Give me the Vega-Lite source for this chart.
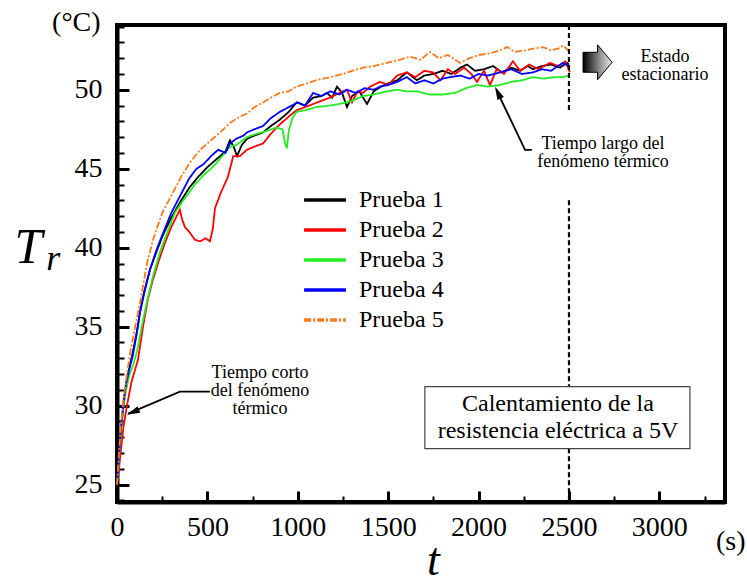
{
  "$schema": "https://vega.github.io/schema/vega-lite/v6.json",
  "width": 608,
  "height": 477,
  "autosize": "none",
  "padding": {"left": 117, "top": 25, "right": 22, "bottom": 74},
  "background": "white",
  "config": {
    "font": "Liberation Serif",
    "view": {"stroke": "black", "strokeWidth": 4},
    "text": {"font": "Liberation Serif"},
    "legend": {"labelFont": "Liberation Serif", "titleFont": "Liberation Serif"},
    "axis": {"domainColor": "black", "domainWidth": 4, "tickColor": "black", "labelColor": "black", "titleColor": "black", "grid": false, "labelFont": "Liberation Serif", "titleFont": "Liberation Serif"}
  },
  "encoding": {
    "x": {
      "field": "t", "type": "quantitative",
      "scale": {"domain": [0, 3363], "nice": false, "zero": false},
      "axis": {
        "values": [0, 250, 500, 750, 1000, 1250, 1500, 1750, 2000, 2250, 2500, 2750, 3000, 3250],
        "format": "d",
        "labelExpr": "datum.value % 500 === 0 ? datum.label : ''",
        "tickSize": {"condition": {"test": "datum.value % 500 === 0", "value": -11}, "value": -6},
        "tickWidth": {"condition": {"test": "datum.value % 500 === 0", "value": 3}, "value": 2},
        "labelPadding": 22, "labelFontSize": 28, "labelFlush": false, "labelOverlap": false,
        "title": "t", "titleFontStyle": "italic", "titleFontSize": 46, "titleFontWeight": "normal",
        "titleX": 316, "titleY": 72, "titleAlign": "center", "titleBaseline": "alphabetic"
      }
    },
    "y": {
      "field": "T", "type": "quantitative",
      "scale": {"domain": [23.9, 54.1], "nice": false, "zero": false},
      "axis": {
        "values": [24, 25, 26, 27, 28, 29, 30, 31, 32, 33, 34, 35, 36, 37, 38, 39, 40, 41, 42, 43, 44, 45, 46, 47, 48, 49, 50, 51, 52, 53, 54],
        "labelExpr": "datum.value % 5 === 0 ? datum.label : ''",
        "tickSize": {"condition": {"test": "datum.value % 5 === 0", "value": -12}, "value": -7},
        "tickWidth": {"condition": {"test": "datum.value % 5 === 0", "value": 3}, "value": 2},
        "labelPadding": 27, "labelFontSize": 28, "labelOverlap": false, "labelFlush": false,
        "title": "T", "titleFontStyle": "italic", "titleFontSize": 50, "titleFontWeight": "normal",
        "titleAngle": 0, "titleX": -103, "titleY": 237, "titleAlign": "left", "titleBaseline": "alphabetic"
      }
    }
  },
  "layer": [
    {
      "data": {"values": [
        {"s":"Prueba 1","t":0,"T":25},{"s":"Prueba 1","t":10,"T":26.5},{"s":"Prueba 1","t":20,"T":28.2},{"s":"Prueba 1","t":35,"T":30.0},{"s":"Prueba 1","t":50,"T":31.3},{"s":"Prueba 1","t":70,"T":32.5},{"s":"Prueba 1","t":88,"T":33.4},{"s":"Prueba 1","t":110,"T":34.7},{"s":"Prueba 1","t":127,"T":35.9},{"s":"Prueba 1","t":150,"T":37.2},{"s":"Prueba 1","t":182,"T":38.6},{"s":"Prueba 1","t":220,"T":39.8},{"s":"Prueba 1","t":254,"T":40.8},{"s":"Prueba 1","t":300,"T":41.9},{"s":"Prueba 1","t":350,"T":42.9},{"s":"Prueba 1","t":400,"T":43.8},{"s":"Prueba 1","t":450,"T":44.5},{"s":"Prueba 1","t":500,"T":45.1},{"s":"Prueba 1","t":550,"T":45.6},{"s":"Prueba 1","t":600,"T":46.1},{"s":"Prueba 1","t":625,"T":46.8},{"s":"Prueba 1","t":645,"T":46.4},{"s":"Prueba 1","t":664,"T":45.8},{"s":"Prueba 1","t":690,"T":46.5},{"s":"Prueba 1","t":720,"T":46.9},{"s":"Prueba 1","t":760,"T":47.1},{"s":"Prueba 1","t":808,"T":47.3},{"s":"Prueba 1","t":850,"T":47.7},{"s":"Prueba 1","t":900,"T":48.1},{"s":"Prueba 1","t":950,"T":48.6},{"s":"Prueba 1","t":993,"T":49.2},{"s":"Prueba 1","t":1040,"T":49.0},{"s":"Prueba 1","t":1085,"T":49.5},{"s":"Prueba 1","t":1130,"T":49.6},{"s":"Prueba 1","t":1161,"T":49.8},{"s":"Prueba 1","t":1190,"T":49.5},{"s":"Prueba 1","t":1217,"T":50.2},{"s":"Prueba 1","t":1245,"T":49.8},{"s":"Prueba 1","t":1272,"T":48.9},{"s":"Prueba 1","t":1300,"T":49.6},{"s":"Prueba 1","t":1340,"T":49.9},{"s":"Prueba 1","t":1383,"T":49.1},{"s":"Prueba 1","t":1420,"T":49.9},{"s":"Prueba 1","t":1460,"T":50.2},{"s":"Prueba 1","t":1500,"T":50.4},{"s":"Prueba 1","t":1550,"T":50.6},{"s":"Prueba 1","t":1603,"T":51.1},{"s":"Prueba 1","t":1659,"T":50.6},{"s":"Prueba 1","t":1700,"T":50.9},{"s":"Prueba 1","t":1750,"T":51.0},{"s":"Prueba 1","t":1800,"T":51.2},{"s":"Prueba 1","t":1850,"T":51.0},{"s":"Prueba 1","t":1900,"T":51.4},{"s":"Prueba 1","t":1936,"T":51.6},{"s":"Prueba 1","t":1980,"T":51.2},{"s":"Prueba 1","t":2030,"T":51.3},{"s":"Prueba 1","t":2080,"T":51.5},{"s":"Prueba 1","t":2130,"T":51.1},{"s":"Prueba 1","t":2180,"T":51.4},{"s":"Prueba 1","t":2230,"T":51.2},{"s":"Prueba 1","t":2270,"T":51.5},{"s":"Prueba 1","t":2301,"T":51.3},{"s":"Prueba 1","t":2350,"T":51.5},{"s":"Prueba 1","t":2400,"T":51.6},{"s":"Prueba 1","t":2450,"T":51.4},{"s":"Prueba 1","t":2489,"T":51.7},{"s":"Prueba 1","t":2500,"T":51.6},

        {"s":"Prueba 2","t":0,"T":25},{"s":"Prueba 2","t":10,"T":25.9},{"s":"Prueba 2","t":20,"T":27.0},{"s":"Prueba 2","t":35,"T":28.6},{"s":"Prueba 2","t":55,"T":30.0},{"s":"Prueba 2","t":80,"T":31.5},{"s":"Prueba 2","t":116,"T":32.9},{"s":"Prueba 2","t":144,"T":35.0},{"s":"Prueba 2","t":170,"T":36.7},{"s":"Prueba 2","t":199,"T":38.0},{"s":"Prueba 2","t":235,"T":39.3},{"s":"Prueba 2","t":265,"T":40.3},{"s":"Prueba 2","t":300,"T":41.3},{"s":"Prueba 2","t":330,"T":42.0},{"s":"Prueba 2","t":348,"T":42.4},{"s":"Prueba 2","t":360,"T":41.8},{"s":"Prueba 2","t":376,"T":41.3},{"s":"Prueba 2","t":400,"T":41.0},{"s":"Prueba 2","t":431,"T":40.5},{"s":"Prueba 2","t":460,"T":40.4},{"s":"Prueba 2","t":490,"T":40.6},{"s":"Prueba 2","t":514,"T":40.4},{"s":"Prueba 2","t":530,"T":41.2},{"s":"Prueba 2","t":542,"T":42.5},{"s":"Prueba 2","t":575,"T":43.5},{"s":"Prueba 2","t":614,"T":44.5},{"s":"Prueba 2","t":643,"T":45.8},{"s":"Prueba 2","t":680,"T":45.8},{"s":"Prueba 2","t":719,"T":46.2},{"s":"Prueba 2","t":760,"T":46.4},{"s":"Prueba 2","t":808,"T":46.6},{"s":"Prueba 2","t":850,"T":47.2},{"s":"Prueba 2","t":900,"T":47.8},{"s":"Prueba 2","t":950,"T":48.3},{"s":"Prueba 2","t":993,"T":48.7},{"s":"Prueba 2","t":1040,"T":48.9},{"s":"Prueba 2","t":1085,"T":49.1},{"s":"Prueba 2","t":1130,"T":49.3},{"s":"Prueba 2","t":1178,"T":49.5},{"s":"Prueba 2","t":1230,"T":49.8},{"s":"Prueba 2","t":1272,"T":50.0},{"s":"Prueba 2","t":1300,"T":49.2},{"s":"Prueba 2","t":1330,"T":49.9},{"s":"Prueba 2","t":1361,"T":49.8},{"s":"Prueba 2","t":1400,"T":50.2},{"s":"Prueba 2","t":1455,"T":50.5},{"s":"Prueba 2","t":1500,"T":50.3},{"s":"Prueba 2","t":1550,"T":50.9},{"s":"Prueba 2","t":1603,"T":51.1},{"s":"Prueba 2","t":1650,"T":50.8},{"s":"Prueba 2","t":1700,"T":51.2},{"s":"Prueba 2","t":1748,"T":51.1},{"s":"Prueba 2","t":1790,"T":50.6},{"s":"Prueba 2","t":1830,"T":51.3},{"s":"Prueba 2","t":1870,"T":51.0},{"s":"Prueba 2","t":1920,"T":51.4},{"s":"Prueba 2","t":1960,"T":51.0},{"s":"Prueba 2","t":1991,"T":50.5},{"s":"Prueba 2","t":2030,"T":51.2},{"s":"Prueba 2","t":2063,"T":50.3},{"s":"Prueba 2","t":2100,"T":51.3},{"s":"Prueba 2","t":2140,"T":51.0},{"s":"Prueba 2","t":2190,"T":51.8},{"s":"Prueba 2","t":2230,"T":51.2},{"s":"Prueba 2","t":2280,"T":51.6},{"s":"Prueba 2","t":2330,"T":51.3},{"s":"Prueba 2","t":2395,"T":51.7},{"s":"Prueba 2","t":2440,"T":51.5},{"s":"Prueba 2","t":2480,"T":51.8},{"s":"Prueba 2","t":2505,"T":51.1},

        {"s":"Prueba 3","t":0,"T":25},{"s":"Prueba 3","t":10,"T":26.4},{"s":"Prueba 3","t":20,"T":28.0},{"s":"Prueba 3","t":35,"T":29.8},{"s":"Prueba 3","t":50,"T":31.0},{"s":"Prueba 3","t":70,"T":32.0},{"s":"Prueba 3","t":90,"T":32.6},{"s":"Prueba 3","t":110,"T":33.4},{"s":"Prueba 3","t":144,"T":35.4},{"s":"Prueba 3","t":170,"T":36.8},{"s":"Prueba 3","t":199,"T":38.2},{"s":"Prueba 3","t":240,"T":39.8},{"s":"Prueba 3","t":276,"T":40.9},{"s":"Prueba 3","t":320,"T":42.2},{"s":"Prueba 3","t":366,"T":43.0},{"s":"Prueba 3","t":387,"T":43.3},{"s":"Prueba 3","t":430,"T":44.0},{"s":"Prueba 3","t":480,"T":44.6},{"s":"Prueba 3","t":520,"T":45.0},{"s":"Prueba 3","t":553,"T":45.4},{"s":"Prueba 3","t":590,"T":45.9},{"s":"Prueba 3","t":625,"T":46.4},{"s":"Prueba 3","t":660,"T":46.5},{"s":"Prueba 3","t":719,"T":47.0},{"s":"Prueba 3","t":770,"T":47.2},{"s":"Prueba 3","t":830,"T":47.4},{"s":"Prueba 3","t":880,"T":47.6},{"s":"Prueba 3","t":915,"T":47.5},{"s":"Prueba 3","t":930,"T":46.6},{"s":"Prueba 3","t":940,"T":46.3},{"s":"Prueba 3","t":950,"T":47.4},{"s":"Prueba 3","t":970,"T":48.2},{"s":"Prueba 3","t":993,"T":48.6},{"s":"Prueba 3","t":1040,"T":48.7},{"s":"Prueba 3","t":1100,"T":48.9},{"s":"Prueba 3","t":1178,"T":49.0},{"s":"Prueba 3","t":1230,"T":49.1},{"s":"Prueba 3","t":1300,"T":49.3},{"s":"Prueba 3","t":1361,"T":49.6},{"s":"Prueba 3","t":1420,"T":49.7},{"s":"Prueba 3","t":1490,"T":49.9},{"s":"Prueba 3","t":1549,"T":50.0},{"s":"Prueba 3","t":1600,"T":49.9},{"s":"Prueba 3","t":1659,"T":49.9},{"s":"Prueba 3","t":1730,"T":49.7},{"s":"Prueba 3","t":1803,"T":49.7},{"s":"Prueba 3","t":1870,"T":49.8},{"s":"Prueba 3","t":1930,"T":50.1},{"s":"Prueba 3","t":1991,"T":50.3},{"s":"Prueba 3","t":2050,"T":50.2},{"s":"Prueba 3","t":2118,"T":50.3},{"s":"Prueba 3","t":2180,"T":50.5},{"s":"Prueba 3","t":2240,"T":50.6},{"s":"Prueba 3","t":2301,"T":50.8},{"s":"Prueba 3","t":2360,"T":50.7},{"s":"Prueba 3","t":2420,"T":50.8},{"s":"Prueba 3","t":2467,"T":50.8},{"s":"Prueba 3","t":2500,"T":50.9},

        {"s":"Prueba 4","t":0,"T":25},{"s":"Prueba 4","t":10,"T":26.6},{"s":"Prueba 4","t":20,"T":28.3},{"s":"Prueba 4","t":35,"T":30.1},{"s":"Prueba 4","t":50,"T":31.4},{"s":"Prueba 4","t":70,"T":32.4},{"s":"Prueba 4","t":88,"T":33.2},{"s":"Prueba 4","t":110,"T":34.6},{"s":"Prueba 4","t":127,"T":35.9},{"s":"Prueba 4","t":150,"T":37.1},{"s":"Prueba 4","t":182,"T":38.6},{"s":"Prueba 4","t":220,"T":39.9},{"s":"Prueba 4","t":254,"T":40.9},{"s":"Prueba 4","t":300,"T":42.2},{"s":"Prueba 4","t":350,"T":43.3},{"s":"Prueba 4","t":400,"T":44.4},{"s":"Prueba 4","t":440,"T":45.0},{"s":"Prueba 4","t":480,"T":45.3},{"s":"Prueba 4","t":520,"T":45.8},{"s":"Prueba 4","t":560,"T":46.2},{"s":"Prueba 4","t":600,"T":46.0},{"s":"Prueba 4","t":625,"T":46.6},{"s":"Prueba 4","t":660,"T":46.9},{"s":"Prueba 4","t":700,"T":47.1},{"s":"Prueba 4","t":719,"T":47.3},{"s":"Prueba 4","t":760,"T":47.5},{"s":"Prueba 4","t":808,"T":47.7},{"s":"Prueba 4","t":850,"T":48.2},{"s":"Prueba 4","t":901,"T":48.6},{"s":"Prueba 4","t":950,"T":48.9},{"s":"Prueba 4","t":1000,"T":49.2},{"s":"Prueba 4","t":1040,"T":49.0},{"s":"Prueba 4","t":1085,"T":49.8},{"s":"Prueba 4","t":1130,"T":49.6},{"s":"Prueba 4","t":1180,"T":49.9},{"s":"Prueba 4","t":1230,"T":49.7},{"s":"Prueba 4","t":1272,"T":50.0},{"s":"Prueba 4","t":1320,"T":49.8},{"s":"Prueba 4","t":1370,"T":50.1},{"s":"Prueba 4","t":1420,"T":50.0},{"s":"Prueba 4","t":1455,"T":50.2},{"s":"Prueba 4","t":1500,"T":50.3},{"s":"Prueba 4","t":1550,"T":50.5},{"s":"Prueba 4","t":1603,"T":50.8},{"s":"Prueba 4","t":1650,"T":50.4},{"s":"Prueba 4","t":1700,"T":50.6},{"s":"Prueba 4","t":1750,"T":50.4},{"s":"Prueba 4","t":1800,"T":50.7},{"s":"Prueba 4","t":1842,"T":50.8},{"s":"Prueba 4","t":1900,"T":50.9},{"s":"Prueba 4","t":1950,"T":50.7},{"s":"Prueba 4","t":2000,"T":51.0},{"s":"Prueba 4","t":2050,"T":50.9},{"s":"Prueba 4","t":2118,"T":51.1},{"s":"Prueba 4","t":2180,"T":51.3},{"s":"Prueba 4","t":2240,"T":51.0},{"s":"Prueba 4","t":2301,"T":51.1},{"s":"Prueba 4","t":2350,"T":51.3},{"s":"Prueba 4","t":2400,"T":51.2},{"s":"Prueba 4","t":2440,"T":51.5},{"s":"Prueba 4","t":2467,"T":51.7},{"s":"Prueba 4","t":2500,"T":51.5},

        {"s":"Prueba 5","t":0,"T":25},{"s":"Prueba 5","t":10,"T":26.8},{"s":"Prueba 5","t":20,"T":28.5},{"s":"Prueba 5","t":35,"T":30.3},{"s":"Prueba 5","t":50,"T":31.6},{"s":"Prueba 5","t":72,"T":33.3},{"s":"Prueba 5","t":100,"T":35.0},{"s":"Prueba 5","t":127,"T":36.5},{"s":"Prueba 5","t":166,"T":39.0},{"s":"Prueba 5","t":199,"T":40.5},{"s":"Prueba 5","t":250,"T":42.2},{"s":"Prueba 5","t":310,"T":43.5},{"s":"Prueba 5","t":360,"T":44.6},{"s":"Prueba 5","t":410,"T":45.5},{"s":"Prueba 5","t":460,"T":46.2},{"s":"Prueba 5","t":520,"T":46.8},{"s":"Prueba 5","t":570,"T":47.3},{"s":"Prueba 5","t":625,"T":47.9},{"s":"Prueba 5","t":680,"T":48.3},{"s":"Prueba 5","t":720,"T":48.5},{"s":"Prueba 5","t":760,"T":48.9},{"s":"Prueba 5","t":808,"T":49.2},{"s":"Prueba 5","t":850,"T":49.5},{"s":"Prueba 5","t":900,"T":49.8},{"s":"Prueba 5","t":950,"T":49.9},{"s":"Prueba 5","t":993,"T":50.2},{"s":"Prueba 5","t":1050,"T":50.4},{"s":"Prueba 5","t":1100,"T":50.6},{"s":"Prueba 5","t":1178,"T":50.8},{"s":"Prueba 5","t":1250,"T":51.0},{"s":"Prueba 5","t":1300,"T":51.2},{"s":"Prueba 5","t":1361,"T":51.4},{"s":"Prueba 5","t":1420,"T":51.5},{"s":"Prueba 5","t":1492,"T":51.7},{"s":"Prueba 5","t":1565,"T":51.9},{"s":"Prueba 5","t":1620,"T":52.1},{"s":"Prueba 5","t":1680,"T":51.9},{"s":"Prueba 5","t":1731,"T":52.4},{"s":"Prueba 5","t":1780,"T":52.0},{"s":"Prueba 5","t":1830,"T":52.2},{"s":"Prueba 5","t":1897,"T":51.7},{"s":"Prueba 5","t":1950,"T":52.0},{"s":"Prueba 5","t":2000,"T":52.2},{"s":"Prueba 5","t":2060,"T":52.3},{"s":"Prueba 5","t":2118,"T":52.5},{"s":"Prueba 5","t":2160,"T":52.7},{"s":"Prueba 5","t":2200,"T":52.4},{"s":"Prueba 5","t":2260,"T":52.5},{"s":"Prueba 5","t":2300,"T":52.6},{"s":"Prueba 5","t":2356,"T":52.7},{"s":"Prueba 5","t":2400,"T":52.5},{"s":"Prueba 5","t":2440,"T":52.6},{"s":"Prueba 5","t":2467,"T":52.8},{"s":"Prueba 5","t":2505,"T":52.4}
      ]},
      "mark": {"type": "line", "strokeWidth": 1.8},
      "encoding": {
        "color": {
          "field": "s", "type": "nominal",
          "scale": {"domain": ["Prueba 1", "Prueba 2", "Prueba 3", "Prueba 4", "Prueba 5"], "range": ["#000000", "#ff0000", "#22ee22", "#0000ff", "#ff7a1a"]},
          "legend": {"orient": "none", "legendX": 196, "legendY": 163, "title": null, "symbolType": "M-2.5,0H2.5", "symbolSize": 280, "symbolStrokeWidth": 3.5, "labelFontSize": 24, "labelOffset": 22, "rowPadding": 6, "labelColor": "black", "padding": 0}
        },
        "strokeDash": {
          "field": "s", "type": "nominal",
          "scale": {"domain": ["Prueba 1", "Prueba 2", "Prueba 3", "Prueba 4", "Prueba 5"], "range": [[1, 0], [1, 0], [1, 0], [1, 0], [7, 2, 2, 2]]},
          "legend": {"orient": "none", "legendX": 196, "legendY": 163, "title": null, "symbolType": "M-2.5,0H2.5", "symbolSize": 280, "symbolStrokeWidth": 3.5, "labelFontSize": 24, "labelOffset": 22, "rowPadding": 6, "labelColor": "black", "padding": 0}
        }
      }
    },
    {
      "data": {"values": [{"t": 2500, "T": 54.1, "T2": 48.7}, {"t": 2500, "T": 43.0, "T2": 23.9}]},
      "mark": {"type": "rule", "color": "black", "strokeWidth": 2.2, "strokeDash": [5, 3]},
      "encoding": {"y2": {"field": "T2"}}
    },
    {
      "data": {"values": [{"t": 1703, "t2": 3169, "T": 31.2, "T2": 27.28}]},
      "mark": {"type": "rect", "fill": "white", "stroke": "#444444", "strokeWidth": 1.2},
      "encoding": {"x2": {"field": "t2"}, "y2": {"field": "T2"}}
    },
    {
      "data": {"values": [{"t": 2439, "T": 29.68, "label": "Calentamiento de la\nresistencia eléctrica a 5V"}]},
      "mark": {"type": "text", "fontSize": 24, "align": "center", "baseline": "alphabetic", "lineBreak": "\n", "lineHeight": 27, "color": "black"},
      "encoding": {"text": {"field": "label"}}
    },
    {
      "data": {"values": [
        {"t": 791, "T": 31.77, "label": "Tiempo corto\ndel fenómeno\ntérmico"},
        {"t": 2688, "T": 46.27, "label": "Tiempo largo del\nfenómeno térmico"},
        {"t": 3031, "T": 51.77, "label": "Estado\nestacionario"}
      ]},
      "mark": {"type": "text", "fontSize": 18, "align": "center", "baseline": "alphabetic", "lineBreak": "\n", "lineHeight": 18, "color": "black"},
      "encoding": {"text": {"field": "label"}}
    },
    {
      "data": {"values": [
        {"g": "a", "o": 1, "t": 514, "T": 30.89}, {"g": "a", "o": 2, "t": 348, "T": 30.89}, {"g": "a", "o": 3, "t": 62, "T": 29.5},
        {"g": "b", "o": 1, "t": 2295, "T": 46.2}, {"g": "b", "o": 2, "t": 2257, "T": 46.2}, {"g": "b", "o": 3, "t": 2098, "T": 50.0}
      ]},
      "mark": {"type": "line", "color": "black", "strokeWidth": 1.8},
      "encoding": {"detail": {"field": "g"}, "order": {"field": "o"}}
    },
    {
      "data": {"values": [{"t": 55.3, "T": 29.43}]},
      "mark": {"type": "point", "shape": "M0,0L0.55,2L-0.55,2Z", "size": 170, "filled": true, "color": "black", "opacity": 1, "angle": 246.5, "strokeWidth": 0}
    },
    {
      "data": {"values": [{"t": 2091, "T": 50.19}]},
      "mark": {"type": "point", "shape": "M0,0L0.55,2L-0.55,2Z", "size": 170, "filled": true, "color": "black", "opacity": 1, "angle": 334.5, "strokeWidth": 0}
    },
    {
      "data": {"values": [{"t": 2658, "T": 51.74}]},
      "mark": {"type": "point", "shape": "M-0.83,-0.57L0,-0.57L0,-1L0.83,0L0,1L0,0.57L-0.83,0.57Z", "size": 1225, "filled": true, "opacity": 1, "stroke": "black", "strokeWidth": 1,
        "fill": {"gradient": "linear", "x1": 0, "y1": 0, "x2": 1, "y2": 0, "stops": [{"offset": 0, "color": "#000000"}, {"offset": 0.55, "color": "#888888"}, {"offset": 1, "color": "#eeeeee"}]}}
    },
    {
      "data": {"values": [{"t": -392, "T": 38.6, "label": "r"}]},
      "mark": {"type": "text", "fontSize": 36, "fontStyle": "italic", "align": "left", "baseline": "alphabetic", "color": "black"},
      "encoding": {"text": {"field": "label"}}
    },
    {
      "data": {"values": [{"t": 3313, "T": 20.89, "label": "(s)"}, {"t": -359, "T": 53.75, "label": "(°C)"}]},
      "mark": {"type": "text", "fontSize": 28, "align": "left", "baseline": "alphabetic", "color": "black"},
      "encoding": {"text": {"field": "label"}}
    }
  ]
}
